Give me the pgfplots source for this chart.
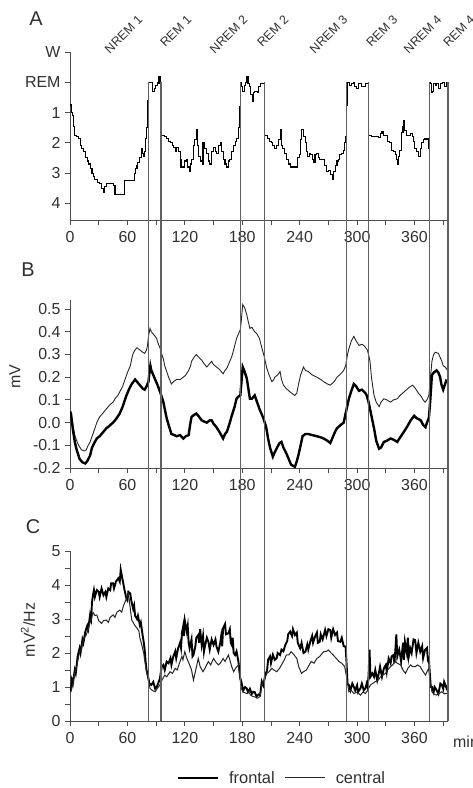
\documentclass[border=0pt]{standalone}
\usepackage{pgfplots}
\pgfplotsset{compat=1.18}
\usepackage{fontspec}
\setmainfont{Liberation Sans}
\definecolor{txt}{HTML}{303030}
\definecolor{evt}{HTML}{606060}
\pgfplotsset{
  panel/.style={
    scale only axis, width=378bp, xmin=0, xmax=395,
    axis x line*=bottom, axis y line*=left,
    axis line style={line width=0.9bp, black!70},
    every tick/.style={line width=0.9bp, black!70},
    tick align=outside, major tick length=5bp, minor tick length=5bp,
    xtick={0,60,...,360}, minor xtick={30,90,...,390},
    tick label style={font=\fontsize{16}{16}\selectfont, text=txt},
    /pgf/number format/assume math mode=true,
    xticklabel shift=3bp, yticklabel shift=1bp,
  },
}
\begin{document}
\begin{tikzpicture}
% ---------- Panel A: hypnogram ----------
\begin{axis}[panel, at={(70bp,-220bp)}, anchor=south west, height=168bp,
  ymin=-4.55, ymax=1,
  ytick={1,0,-1,-2,-3,-4}, yticklabels={W,REM,1,2,3,4}]
\addplot[const plot, black, line width=1.1bp, y filter/.expression={-y}] coordinates {
(0,0.75) (2,1.0) (3,1.1) (4,1.45) (5,1.75) (7,1.8) (9,1.85) (11,2.1) (12,2.2) (14,2.3) (16,2.5) (18,2.6) (19,2.7) (21,2.85) (23,3.0) (25,3.1) (26,3.2) (29,3.3) (31,3.35) (33,3.5) (35,3.65) (36,3.45) (38,3.35) (44,3.35) (45,3.4) (47,3.7) (56,3.7) (57,3.25) (66,3.25) (67,3.0) (68,2.85) (70,2.75) (71,2.65) (73,2.5) (75,2.2) (76,2.35) (77,2.45) (78,2.3) (79,1.85) (80,1.5) (81,0.6) (82,0) (85,0) (86,0.3) (88,0.2) (89,0.1) (91,0) (92,0.05) (93,-0.18) (95,-0.13) (95,1.75)
(97,1.75) (99,1.8) (101,1.85) (103,1.95) (105,2.0) (107,2.1) (108,2.15) (110,2.3) (111,2.15) (113,2.3) (115,2.55) (116,2.8) (118,2.8) (120,2.6) (122,2.55) (123,2.8) (125,2.95) (126,2.7) (127,2.55) (129,2.1) (130,1.9) (132,1.55) (133,2.1) (134,2.45) (136,2.6) (138,2.7) (139,2.0) (141,2.2) (143,2.35) (145,2.6) (146,2.7) (148,2.3) (150,2.15) (152,2.3) (153,2.35) (155,2.1) (157,2.0) (158,2.3) (160,2.55) (162,2.7) (164,2.8) (166,2.6) (167,2.55) (169,2.3) (171,2.1) (173,1.95) (174,1.85) (176,1.5) (177,0.8) (178,0) (179,0.15) (180.5,0.3) (182,0.1) (183,0) (185,-0.18) (186,0.05) (188,0.15) (189,0.4) (191,0.65) (192,0.35) (193,0.3) (195.5,0.35) (197,0.15) (199,0.05) (200.4,0.03) (203,0) (203,1.75)
(204,1.75) (206,1.85) (208,1.95) (211,2.0) (212,2.1) (214,2.2) (216,2.1) (218,1.9) (220,1.55) (221,2.1) (222,2.2) (224,2.35) (226,2.55) (228,2.7) (230,2.8) (237,2.8) (238,2.5) (240,2.4) (241,1.9) (242,1.55) (244,1.8) (246,2.0) (247,2.3) (248,2.45) (250,2.35) (251,2.4) (253,2.55) (255,2.65) (256,2.4) (258,2.35) (260,2.5) (261,2.55) (265,2.55) (266,2.75) (268,2.95) (270,2.9) (272,3.05) (274,3.2) (275,2.95) (277,2.75) (279,2.6) (280.5,2.55) (282,2.4) (284,2.35) (286,2.25) (287,2.0) (288,1.8) (289,0.75) (290,0) (292,0.1) (294,0.05) (296,0.0) (297,0.15) (299,0.2) (301,0.05) (303,0.05) (305,0.15) (308,0.15) (309,0.05) (312,0) (312,1.75)
(315,1.8) (322,1.82) (324,1.7) (326,1.64) (328,1.75) (330,1.75) (332,1.95) (334,2.0) (336,2.25) (338,2.3) (340,2.4) (341,2.55) (342,2.7) (343,2.45) (344,2.25) (346,1.65) (348,1.45) (349,1.25) (350,1.6) (352,1.75) (356,1.7) (358,1.8) (359,1.95) (360,2.2) (362,2.3) (364,2.45) (365,2.45) (366,2.2) (367,2.0) (369,1.9) (371,1.85) (373,1.9) (374,1.85) (375,2.2) (376,0.0) (377,0.05) (378,0.35) (379,0.3) (380,0.05) (382,0.1) (383,0.05) (385,0.2) (387,0.05) (389,0) (391,0.15) (392,0.15) (393,0.0) (395,0)
};
\end{axis}
% ---------- Panel B ----------
\begin{axis}[panel, at={(70bp,-468bp)}, anchor=south west, height=168bp,
  ymin=-0.2, ymax=0.54,
  ytick={-0.2,-0.1,0,0.1,0.2,0.3,0.4,0.5},
  yticklabels={-0.2,-0.1,0.0,0.1,0.2,0.3,0.4,0.5}]
\addplot[black!85, line width=0.9bp] coordinates {
(0,0.05) (1,0.04) (3,-0.01) (5,-0.055) (7,-0.08) (9,-0.10) (12,-0.12) (15,-0.125) (17,-0.12) (19,-0.10) (21,-0.085) (24,-0.05) (26,-0.025) (28,0.0) (31,0.025) (34,0.04) (37,0.055) (40,0.07) (42,0.08) (45,0.09) (47,0.105) (50,0.12) (52,0.135) (55,0.16) (57.5,0.19) (60,0.22) (63,0.25) (65,0.29) (66,0.305) (68,0.32) (70,0.33) (73,0.32) (76,0.31) (78,0.305) (80,0.32) (81,0.34) (82,0.38) (83.6,0.415) (85,0.40) (87,0.39) (89,0.38) (90.6,0.37) (92,0.35) (94,0.33) (96,0.30) (97.6,0.28) (99,0.25) (101,0.225) (103,0.20) (106,0.17) (108,0.18) (111.5,0.19) (115,0.19) (118.5,0.20) (121,0.21) (124,0.23) (126,0.25) (127,0.27) (130,0.29) (132,0.30) (134,0.29) (137.6,0.275) (140,0.26) (143,0.245) (146,0.26) (148,0.27) (150,0.255) (153,0.245) (156,0.235) (160,0.215) (162,0.23) (164,0.24) (166,0.26) (169,0.29) (171,0.32) (174,0.37) (176,0.39) (178,0.41) (179,0.45) (180.5,0.52) (182,0.51) (183,0.50) (185,0.47) (186,0.45) (188,0.415) (190,0.42) (193,0.40) (195.5,0.39) (198,0.37) (200.4,0.33) (203,0.29) (205.6,0.24) (208,0.21) (211,0.18) (213,0.19) (214,0.20) (217,0.21) (219.5,0.225) (221,0.19) (223,0.165) (226,0.15) (230,0.135) (233,0.125) (235,0.12) (237,0.13) (238.6,0.165) (241,0.21) (244,0.245) (246,0.23) (249,0.225) (253,0.21) (258,0.20) (262,0.19) (265,0.18) (269,0.17) (272,0.165) (276,0.18) (279,0.20) (283,0.215) (286,0.23) (288,0.25) (290,0.30) (291.4,0.325) (294,0.36) (296.6,0.38) (299,0.36) (302,0.34) (305,0.345) (307,0.34) (309,0.33) (310.7,0.32) (312,0.30) (313.5,0.27) (315,0.20) (317.7,0.12) (320,0.09) (323,0.07) (325,0.09) (328,0.105) (331,0.10) (335,0.09) (338,0.10) (342,0.105) (345,0.12) (349,0.135) (353,0.15) (356,0.16) (358,0.165) (361,0.15) (364,0.13) (367,0.115) (369,0.10) (371,0.09) (373,0.10) (375,0.12) (376.5,0.19) (378.2,0.27) (380,0.30) (381.6,0.31) (385,0.305) (387,0.285) (388.6,0.27) (390,0.25) (392,0.245) (394.5,0.23)
};
\addplot[black, line width=2.4bp] coordinates {
(0,0.05) (1,0.04) (3,-0.03) (5,-0.085) (7,-0.12) (10,-0.16) (13,-0.175) (16,-0.18) (18,-0.17) (21,-0.145) (23,-0.11) (26,-0.085) (28,-0.07) (31,-0.06) (34,-0.045) (38,-0.025) (41,-0.015) (45,0.0) (48,0.015) (52,0.04) (55,0.07) (59,0.12) (62,0.15) (64.5,0.17) (68,0.19) (70,0.18) (73,0.165) (76,0.15) (78,0.145) (80,0.16) (82,0.18) (83,0.22) (84,0.25) (85,0.23) (87,0.21) (90,0.18) (92,0.16) (95,0.125) (97.6,0.09) (99,0.06) (101,0.02) (103,-0.01) (106,-0.05) (109,-0.055) (111.5,-0.06) (115,-0.055) (118.5,-0.07) (121,-0.06) (124,-0.055) (125.5,-0.01) (127,0.025) (130,0.035) (132,0.04) (135,0.025) (137.6,0.01) (140,0.005) (143,0.0) (146,0.01) (148,0.01) (150,-0.005) (153,-0.02) (156,-0.04) (158,-0.055) (160,-0.07) (162,-0.05) (164,-0.04) (167,0.0) (169,0.03) (172,0.07) (174,0.105) (176,0.115) (178,0.12) (179,0.17) (180.5,0.245) (182,0.23) (184.7,0.195) (186,0.16) (188,0.105) (190,0.105) (193,0.12) (195.5,0.09) (198,0.06) (200,0.04) (202,0.02) (205,-0.02) (207,-0.07) (209,-0.11) (212,-0.15) (214,-0.13) (217,-0.105) (219,-0.09) (221,-0.085) (223,-0.11) (226,-0.135) (228,-0.155) (231,-0.185) (233,-0.19) (235,-0.195) (237,-0.17) (238.6,-0.145) (241,-0.10) (243,-0.06) (246,-0.05) (249,-0.05) (253,-0.055) (258,-0.06) (262,-0.065) (265,-0.07) (269,-0.08) (272,-0.09) (274,-0.07) (277,-0.04) (279,-0.025) (283,-0.01) (286,0.0) (288,0.04) (291.4,0.105) (294,0.14) (296.6,0.17) (299,0.16) (302,0.14) (305,0.145) (308.7,0.13) (310,0.12) (312,0.09) (314,0.05) (317.7,-0.025) (320,-0.08) (323,-0.115) (325,-0.11) (328,-0.085) (331,-0.08) (335,-0.07) (338,-0.075) (342,-0.085) (345,-0.065) (349,-0.04) (352,-0.02) (356,0.01) (359.7,0.03) (362,0.02) (366.5,0.01) (369,-0.01) (371.5,-0.02) (373,0.0) (375,0.02) (376.5,0.10) (378.2,0.21) (380,0.22) (383,0.23) (385,0.22) (386.8,0.20) (388,0.17) (390,0.145) (392,0.17) (393.5,0.19)
};
\end{axis}
% ---------- Panel C ----------
\begin{axis}[panel, at={(70bp,-721bp)}, anchor=south west, height=170bp,
  ymin=0, ymax=5, ytick={0,...,5}, minor ytick={0.5,1.5,...,4.5},
  clip=false,
  legend columns=2,
  legend style={at={(axis description cs:0.283,-0.335)}, anchor=west, draw=none, fill=none,
    inner sep=0pt, font=\fontsize{16.5}{16.5}\selectfont, text=txt,
    nodes={inner xsep=0pt},
    /tikz/every odd column/.append style={column sep=10bp},
    /tikz/every even column/.append style={column sep=10bp}},
  legend image code/.code={\draw[#1] (0bp,0bp) -- (40bp,0bp);}]
\addplot[black, line width=1.9bp] coordinates {
(0,0.9) (1,0.91) (2,1.2) (3,1.1) (5,1.5) (6,1.4) (8,1.9) (10,2.14) (11,2.0) (13,2.4) (14,2.3) (16,2.63) (18,2.8) (19,2.7) (21,3.12) (22,3.0) (23,3.5) (24,3.7) (25,3.85) (26,3.65) (28,3.85) (30,3.8) (31,3.65) (33,3.9) (35,3.7) (37,3.8) (38,3.65) (40,3.9) (42,3.85) (43,4.05) (45,4.05) (46,3.9) (48,4.1) (50.5,4.2) (52,4.1) (53,4.45) (54,4.3) (56,4.0) (57,3.85) (59,3.6) (60,3.55) (61,3.8) (63,3.75) (64,3.55) (66,3.3) (67,3.4) (68,3.1) (70,3.0) (71,3.1) (73,2.82) (74,2.9) (76,2.5) (77,2.33) (78,2.1) (79,1.75) (80,1.5) (82,1.25) (83,1.1) (85,1.06) (87,1.15) (89,0.95) (90.6,1.0) (92,1.1) (94,1.25) (95,1.45) (96,1.6) (97.6,1.65) (99,1.5) (101,1.75) (103,1.7) (105,1.85) (106,1.65) (108,1.9) (110,2.05) (111,1.85) (113,2.14) (115,2.3) (116,2.15) (117,2.6) (118.5,2.82) (119,2.5) (120,2.95) (122,2.63) (123,2.8) (124,2.3) (125,2.14) (127,2.4) (128,1.9) (129,1.94) (131,2.2) (132,2.45) (134,2.53) (135,2.3) (136,2.7) (137.6,2.24) (139,2.5) (140,2.04) (141,2.2) (143,2.45) (144.6,2.33) (146,2.1) (148,2.4) (150,2.24) (152,2.4) (153,2.2) (155,2.04) (157,2.3) (158,2.5) (159,2.2) (160,2.73) (162,2.85) (163,2.55) (165.5,2.58) (167,2.7) (168,2.3) (169,2.24) (170,2.45) (171,2.0) (172.5,1.94) (174,2.05) (176,1.75) (177,1.5) (178,1.25) (179,1.16) (181,0.9) (183,1.0) (184.7,0.96) (186,0.85) (188,0.95) (190,0.8) (191.6,0.86) (193,0.85) (195,0.72) (197,0.78) (198.6,0.76) (200.4,1.16) (202,1.05) (204,1.35) (206,1.5) (207,1.8) (209,1.9) (210,1.7) (212,1.95) (214,1.8) (216,1.85) (217,2.0) (219.5,1.94) (221,2.1) (223,2.05) (225,2.24) (227,2.35) (228,2.55) (230,2.63) (232,2.5) (233,2.7) (235,2.53) (237,2.6) (238,2.3) (240.5,2.14) (242,2.3) (244,2.0) (246,2.04) (248,2.25) (249,2.1) (251,2.33) (253,2.5) (254,2.3) (256,2.48) (258,2.6) (259,2.3) (261,2.33) (262,2.55) (264,2.4) (266.6,2.68) (268,2.5) (270,2.7) (272,2.68) (273,2.45) (275,2.7) (277,2.53) (279,2.6) (280,2.35) (282.4,2.33) (284,2.45) (286,2.2) (288,2.19) (289,1.7) (290,1.1) (291.4,1.06) (293,0.9) (295,1.1) (296.6,1.0) (298,0.9) (300,1.05) (301,0.85) (303.5,0.96) (305,1.1) (307,0.9) (308.7,0.96) (310,1.1) (311,1.0) (312,1.35) (313,2.1) (314,1.3) (316,1.4) (317.7,1.3) (319,1.5) (321,1.2) (323,1.45) (324,1.6) (326,1.3) (328,1.55) (330,1.65) (331,1.45) (333,1.84) (335,1.7) (336,1.9) (338,1.94) (339,1.7) (340,2.1) (341,2.55) (342,1.9) (344,2.1) (345,1.94) (346,1.75) (348,2.3) (349,1.8) (350,2.33) (352,2.0) (353,2.45) (354,1.9) (355.5,2.14) (357,2.0) (359,2.4) (360.7,2.38) (362,2.0) (364,2.3) (366,2.04) (368,2.2) (369,1.85) (371,2.09) (373,2.15) (374,1.8) (375,1.84) (376,1.4) (377,1.0) (378.2,1.0) (380,0.85) (381,1.0) (383,0.91) (385,0.8) (387,1.1) (388.6,1.06) (390,0.95) (391,1.15) (393.5,0.96) (395,1.05)
};
\addlegendentry{frontal}
\addplot[black!85, line width=1.0bp] coordinates {
(0,0.85) (1,0.86) (3,1.1) (5,1.4) (7,1.6) (10,2.04) (12,2.1) (14,2.4) (17,2.53) (19,2.7) (21,2.9) (22.6,3.02) (24,3.2) (26,3.1) (28,3.12) (30,2.95) (33,2.87) (35,2.95) (38,2.97) (40,2.9) (42,3.05) (45,3.12) (47,3.05) (49,3.2) (52,3.26) (54,3.2) (56,3.4) (57.5,3.5) (59,3.6) (61,3.75) (62,3.55) (63,3.3) (64.5,2.97) (66,2.9) (68,2.8) (70,2.73) (72,2.65) (73,2.45) (75,2.24) (77,2.0) (78,1.8) (80,1.45) (82,1.2) (83.6,0.96) (86,0.9) (89,0.86) (91,0.95) (94,1.06) (96,1.2) (99,1.35) (101,1.3) (104.5,1.45) (107,1.4) (110,1.55) (112,1.5) (115,1.75) (117,1.9) (118,1.8) (120,2.04) (122,1.85) (125,1.65) (127,1.5) (129,1.2) (131,1.45) (134,1.84) (136,1.6) (139,1.45) (141,1.55) (144.6,1.75) (147,1.65) (150,1.84) (152,1.75) (155,1.65) (157,1.7) (160,1.84) (162,1.75) (165.5,1.94) (167,1.8) (169,1.6) (171,1.45) (173,1.55) (176,1.65) (177,1.4) (179,0.96) (181,0.85) (184.7,0.81) (187,0.85) (189,0.75) (191.6,0.72) (194,0.7) (195.5,0.67) (198.6,0.72) (200.4,1.06) (203,1.2) (205.6,1.4) (208,1.45) (211,1.55) (213,1.5) (216,1.45) (219,1.55) (221,1.65) (224,1.8) (226,1.94) (229,1.95) (231,2.04) (234,1.95) (237,1.84) (239,1.6) (242,1.4) (244,1.45) (247,1.5) (250,1.65) (252,1.75) (255,1.7) (258,1.84) (261,1.9) (265,2.04) (268,2.05) (270,2.09) (273,2.0) (275,1.94) (278,1.85) (281,1.75) (284,1.7) (287,1.6) (289,1.3) (291.4,0.86) (294,0.9) (296.6,0.81) (300,0.85) (303.5,0.76) (306,0.85) (308.7,0.81) (311,0.9) (313.9,1.06) (316,1.1) (319,1.16) (322,1.2) (324.5,1.3) (327,1.35) (329.6,1.4) (332,1.5) (335,1.6) (337,1.65) (340,1.75) (342,1.7) (345.5,1.65) (348,1.5) (350.6,1.4) (353,1.55) (356,1.65) (358,1.6) (361,1.6) (363,1.65) (366,1.6) (368,1.5) (371.5,1.35) (373,1.45) (375,1.55) (376,1.2) (378.2,0.86) (380,0.8) (383,0.76) (385,0.8) (388.6,0.86) (391,0.8) (393.5,0.81) (395,0.85)
};
\addlegendentry{central}
% event lines spanning the three panels (up to REM level of panel A)
\addplot[evt, line width=1.3bp, forget plot] coordinates {(82,0) (82,18.79)};
\addplot[evt, line width=1.3bp, forget plot] coordinates {(95,0) (95,18.79)};
\addplot[evt, line width=1.3bp, forget plot] coordinates {(178,0) (178,18.79)};
\addplot[evt, line width=1.3bp, forget plot] coordinates {(203,0) (203,18.79)};
\addplot[evt, line width=1.3bp, forget plot] coordinates {(289,0) (289,18.79)};
\addplot[evt, line width=1.3bp, forget plot] coordinates {(312,0) (312,18.79)};
\addplot[evt, line width=1.3bp, forget plot] coordinates {(376,0) (376,18.79)};
\addplot[evt, line width=1.3bp, forget plot] coordinates {(395,0) (395,18.79)};
\end{axis}
% ---------- texts ----------
\node[font=\fontsize{20}{20}\selectfont, text=txt] at (36bp,-19bp) {A};
\node[font=\fontsize{20}{20}\selectfont, text=txt] at (28bp,-270bp) {B};
\node[font=\fontsize{20}{20}\selectfont, text=txt] at (33bp,-527bp) {C};
\node[rotate=90, font=\fontsize{16}{16}\selectfont, text=txt] at (15bp,-377bp) {mV};
\node[rotate=90, font=\fontsize{16}{16}\selectfont, text=txt] at (28bp,-630bp) {mV\textsuperscript{2}/Hz};
\node[anchor=west, font=\fontsize{16}{16}\selectfont, text=txt, inner sep=0pt] at (453bp,-742bp) {min};
\begin{scope}[every node/.style={rotate=45, anchor=east, inner sep=1pt, font=\fontsize{12.5}{12.5}\selectfont, text=txt}]
\node at (141bp,-17bp) {NREM 1};
\node at (190bp,-17bp) {REM 1};
\node at (246bp,-17bp) {NREM 2};
\node at (287bp,-17bp) {REM 2};
\node at (346bp,-17bp) {NREM 3};
\node at (396bp,-17bp) {REM 3};
\node at (440bp,-17bp) {NREM 4};
\node at (473bp,-17bp) {REM 4};
\end{scope}
\pgfresetboundingbox
\path[use as bounding box] (0bp,0bp) rectangle (473bp,-788bp);
\end{tikzpicture}
\end{document}
